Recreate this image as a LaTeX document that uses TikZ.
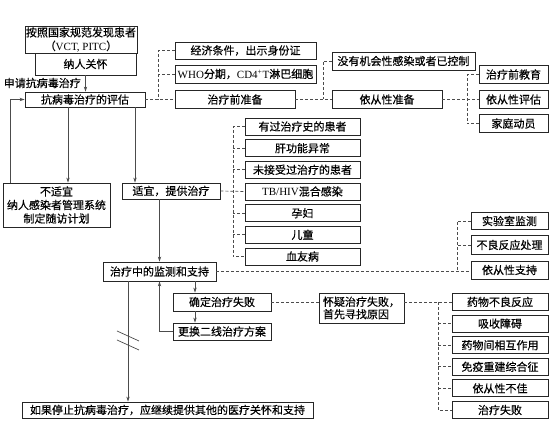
\documentclass[tikz,border=0pt]{standalone}
\usepackage{fontspec}
\setmainfont{Noto Sans CJK SC}[FakeBold=0.5]
\newfontfamily\latinfont{Liberation Serif}
\usepackage{tikz}
\usetikzlibrary{arrows.meta, positioning, calc}

\begin{document}
\begin{tikzpicture}[
  x=1pt, y=-1pt,
  box/.style={draw=black!85, line width=0.8pt, inner sep=1pt, minimum height=17pt, align=center, font=\fontsize{11}{13.5}\selectfont},
  arrow/.style={-{Stealth[length=5pt, width=3.4pt]}, black!70, line width=0.8pt},
  link/.style={black!70, line width=0.7pt, dash pattern=on 3pt off 2pt}
]
\useasboundingbox (0,0) rectangle (550,435);

\node[box, minimum width=112pt, minimum height=27pt] (find) at (81,39.5) {按照国家规范发现患者\\（{\latinfont VCT, PITC}）};
\node[box, minimum width=101pt, minimum height=22pt] (care) at (85.5,64) {纳人关怀};
\node[anchor=east, inner sep=0pt, font=\fontsize{11}{13}\selectfont] (apply) at (81,83) {申请抗病毒治疗};
\node[box, minimum width=120pt, minimum height=15pt] (assess) at (85,99.5) {抗病毒治疗的评估};

\node[box, minimum width=141pt] (econ) at (245.5,50.5) {经济条件，出示身份证};
\node[box, minimum width=141pt, minimum height=18pt] (stage) at (245.5,74) {{\latinfont WHO}分期，{\latinfont CD4\textsuperscript{+}T}淋巴细胞};
\node[box, minimum width=120pt, minimum height=18pt] (prep) at (235,99.5) {治疗前准备};
\node[box, minimum width=143pt, minimum height=18pt] (noinf) at (403.5,61) {没有机会性感染或者已控制};
\node[box, minimum width=110pt, minimum height=18pt] (adhere) at (387,99.5) {依从性准备};
\node[box, minimum width=69pt, minimum height=18pt] (edu) at (513.5,74.5) {治疗前教育};
\node[box, minimum width=69pt, minimum height=18pt] (aeval) at (513.5,99.5) {依从性评估};
\node[box, minimum width=69pt, minimum height=18pt] (family) at (513.5,123.5) {家庭动员};

\node[box, minimum width=107pt, minimum height=44pt] (nofit) at (56.5,205) {不适宜\\纳人感染者管理系统\\制定随访计划};
\node[box, minimum width=98pt, minimum height=16pt] (fit) at (171,191) {适宜，提供治疗};

\node[box, minimum width=115pt] (hist) at (302.5,126.5) {有过治疗史的患者};
\node[box, minimum width=115pt] (liver) at (302.5,148.2) {肝功能异常};
\node[box, minimum width=115pt] (naive) at (302.5,169.8) {未接受过治疗的患者};
\node[box, minimum width=115pt] (tb) at (302.5,191.5) {{\latinfont TB/HIV}混合感染};
\node[box, minimum width=115pt] (preg) at (302.5,213.2) {孕妇};
\node[box, minimum width=115pt] (child) at (302.5,234.8) {儿童};
\node[box, minimum width=115pt] (hemo) at (302.5,256.5) {血友病};

\node[box, minimum width=113pt, minimum height=19pt] (monitor) at (159.5,271.5) {治疗中的监测和支持};
\node[box, minimum width=77pt] (lab) at (509.5,221) {实验室监测};
\node[box, minimum width=77pt, minimum height=19pt] (adverse) at (509.5,245) {不良反应处理};
\node[box, minimum width=77pt, minimum height=18pt] (asupport) at (509.5,270) {依从性支持};

\node[box, minimum width=98pt, minimum height=18pt] (confirm) at (222,302) {确定治疗失败};
\node[box, minimum width=98pt] (switch) at (222,331.5) {更换二线治疗方案};
\node[box, minimum width=85pt, minimum height=30pt, align=left, font=\fontsize{11}{12.5}\selectfont] (suspect) at (361.5,308) {怀疑治疗失败，\\首先寻找原因};

\node[box, minimum width=96pt] (cause1) at (500,302) {药物不良反应};
\node[box, minimum width=96pt] (cause2) at (500,323.6) {吸收障碍};
\node[box, minimum width=96pt] (cause3) at (500,345.2) {药物间相互作用};
\node[box, minimum width=96pt] (cause4) at (500,366.8) {免疫重建综合征};
\node[box, minimum width=96pt] (cause5) at (500,388.4) {依从性不佳};
\node[box, minimum width=96pt] (cause6) at (500,410) {治疗失败};

\node[box, minimum width=291pt, minimum height=16pt] (stop) at (167.5,410) {如果停止抗病毒治疗，应继续提供其他的医疗关怀和支持};

% main flow
\draw[arrow] (care.south) -- (care.south |- assess.north);
\draw[arrow] ([xshift=-17pt]assess.south) -- ([xshift=-17pt]assess.south |- nofit.north);
\draw[arrow] ([xshift=50pt]assess.south) -- ([xshift=50pt]assess.south |- fit.north);
\draw[arrow] ([xshift=-46.5pt]nofit.north) |- (assess.west);
\draw[arrow] (fit.south -| monitor.north) -- (monitor.north);
\draw[arrow] ([xshift=-27pt]confirm.north |- monitor.south) -- ([xshift=-27pt]confirm.north);
\draw[arrow] ([xshift=-27pt]confirm.south) -- ([xshift=-27pt]switch.north);
\draw[arrow] (switch.west) -| (monitor.south);
\draw[arrow] ([xshift=-31.5pt]monitor.south) -- ([xshift=-31.5pt]monitor.south |- stop.north);
\draw[black!70, line width=0.7pt] (117,331) -- (139,341) (117,340) -- (139,350);

% dashed links
\coordinate (pbus) at (158,99.5);
\draw[link] (assess.east) -- (prep.west);
\draw[link] (econ.west) -| (pbus);
\draw[link] (stage.west) -- (stage.west -| pbus);

\coordinate (abus) at (323,99.5);
\draw[link] (prep.east) -- (adhere.west);
\draw[link] (noinf.west) -| (abus);

\coordinate (ebus) at (467,99.5);
\draw[link] (adhere.east) -- (aeval.west);
\draw[link] (edu.west) -| (ebus |- family.west) -- (family.west);

\coordinate (hbus) at (233,191.5);
\draw[link] (fit.east) -- (tb.west);
\draw[link] (hist.west) -| (hbus |- hemo.west) -- (hemo.west);
\foreach \n in {liver,naive,preg,child}
  \draw[link] (\n.west) -- (\n.west -| hbus);

\coordinate (mbus) at (457,271.5);
\draw[link] (monitor.east) -- (monitor.east -| asupport.west);
\draw[link] (lab.west) -| (mbus);
\draw[link] (adverse.west) -- (adverse.west -| mbus);

\coordinate (cbus) at (438,302);
\draw[link] (confirm.east) -- (confirm.east -| suspect.west);
\draw[link] (confirm.east -| suspect.east) -- (cause1.west);
\draw[link] (cbus) |- (cause6.west);
\foreach \i in {2,...,5}
  \draw[link] (cause\i.west -| cbus) -- (cause\i.west);

\end{tikzpicture}
\end{document}
